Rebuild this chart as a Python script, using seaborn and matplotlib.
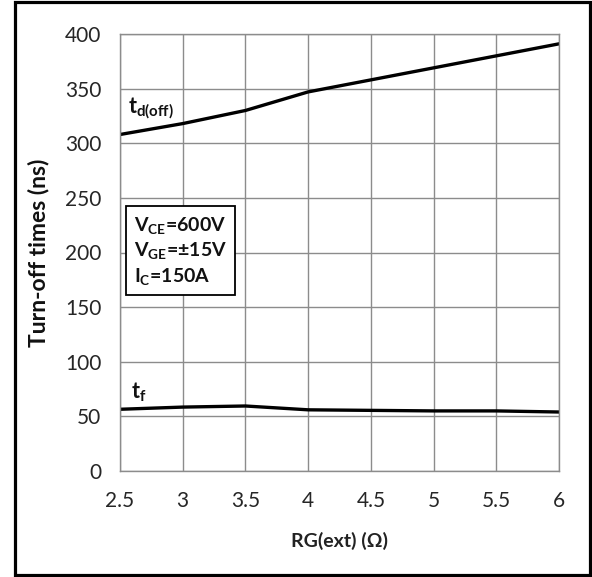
import matplotlib
matplotlib.use("Agg")
import matplotlib.pyplot as plt
import seaborn as sns
import pandas as pd
from matplotlib.patches import Rectangle

# ---- data ----
rg_ext = [2.5, 3.0, 3.5, 4.0, 4.5, 5.0, 5.5, 6.0]
td_off = [308, 318, 330, 347, 358, 369, 380, 391]
t_f = [56.5, 58.5, 59.5, 56, 55.5, 55, 55, 54]
x_ticks = [2.5, 3, 3.5, 4, 4.5, 5, 5.5, 6]
x_tick_labels = ["2.5", "3", "3.5", "4", "4.5", "5", "5.5", "6"]
y_ticks = [0, 50, 100, 150, 200, 250, 300, 350, 400]

df = pd.DataFrame({
    "RG": rg_ext * 2,
    "time": td_off + t_f,
    "series": ["td(off)"] * len(rg_ext) + ["tf"] * len(rg_ext),
})

sns.set_style("white")
plt.rcParams["font.family"] = ["Lato", "DejaVu Sans"]
plt.rcParams["mathtext.fontset"] = "custom"
plt.rcParams["mathtext.rm"] = "Lato"
plt.rcParams["mathtext.bf"] = "Lato:bold"
plt.rcParams["mathtext.it"] = "Lato:italic"

fig = plt.figure(figsize=(5.92, 5.77), dpi=100)
ax = fig.add_axes([120 / 592, 1 - 471 / 577, 439 / 592, 437 / 577])

sns.lineplot(data=df, x="RG", y="time", units="series", estimator=None,
             color="black", linewidth=2.4, ax=ax, legend=False)

ax.set_xlim(2.5, 6)
ax.set_ylim(0, 400)
ax.set_xticks(x_ticks)
ax.set_xticklabels(x_tick_labels)
ax.set_yticks(y_ticks)
ax.grid(True, color="#8c8c8c", linewidth=1.0)
ax.set_axisbelow(True)
for sp in ax.spines.values():
    sp.set_color("#8c8c8c")
    sp.set_linewidth(1.0)
ax.tick_params(axis="both", which="major", direction="out", length=5.5,
               width=1.0, color="#8c8c8c", labelsize=15, labelcolor="#262626")
ax.tick_params(axis="y", pad=8)
ax.tick_params(axis="x", pad=9)

ax.set_xlabel("RG(ext) (Ω)", fontsize=14, fontweight="bold", color="#222222")
ax.set_ylabel("Turn-off times (ns)", fontsize=16.5, fontweight="bold", color="#111111")
ax.yaxis.set_label_coords(-0.162, 0.5)
ax.xaxis.set_label_coords(0.5, -0.1396)

# annotations
ax.text(2.56, 332, r"$\mathbf{t_{d(off)}}$", fontsize=15.5, color="#111111",
        ha="left", va="center")
ax.text(2.59, 72, r"$\mathbf{t_{f}}$", fontsize=15.5, color="#111111",
        ha="left", va="center")
ax.text(2.61, 201.5,
        r"$\mathbf{V_{CE}}$=600V" + "\n" + r"$\mathbf{V_{GE}}$=±15V" + "\n" + r"$\mathbf{I_{C}}$=150A",
        fontsize=14, fontweight="bold", color="#111111", ha="left", va="center",
        linespacing=1.3,
        bbox=dict(boxstyle="square,pad=0.42", facecolor="white",
                  edgecolor="black", linewidth=1.3))

# outer frame
fig.patches.append(Rectangle((14.5 / 592, 2 / 577), 575 / 592, 573 / 577,
                             transform=fig.transFigure, fill=False,
                             edgecolor="black", linewidth=2.3))

fig.savefig("out.png", dpi=100)
